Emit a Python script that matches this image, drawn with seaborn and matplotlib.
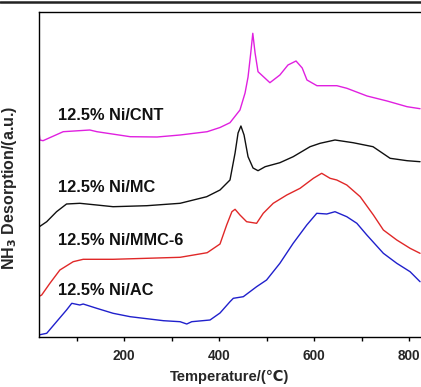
import matplotlib
matplotlib.use("Agg")
import matplotlib.pyplot as plt
import seaborn as sns
import numpy as np
from matplotlib.lines import Line2D
from matplotlib.ticker import MultipleLocator

sns.set_style("white")
plt.rcParams['font.family'] = ['Liberation Sans', 'DejaVu Sans', 'Noto Sans CJK SC']

# Data (temperature in C, signal in arbitrary offset units)
cnt_t = [20, 23, 29.5, 72, 128, 143, 213, 269.5, 318, 375, 402, 423, 444, 454.7, 461, 466.7, 471,
         475.8, 482, 507, 528, 545, 562, 575, 585, 606, 648, 669, 711.5, 753.6, 795.7, 823]
cnt_y = [210, 197, 196.3, 205.3, 207, 205.3, 200.3, 200, 202, 205.3, 209.5, 214.3, 227, 244, 260, 284, 303.7,
         284, 265.3, 254.3, 262, 272, 276, 269, 257, 251.3, 251.3, 248.7, 241, 236, 230.3, 228.3]

mc_t = [20, 37.3, 58, 79, 107, 142.5, 177, 248, 318, 374, 402, 423, 433.7, 440, 446, 452.6, 461, 471.5,
        482, 497, 528, 556, 591.5, 612.6, 644, 682, 724, 760, 795.7, 823]
mc_y = [109.7, 115.3, 125.3, 133, 133.7, 132, 130.3, 131.3, 133.7, 140.3, 147, 157, 184, 204, 211, 202, 180.3, 169,
        166.3, 170.3, 174.3, 180.3, 190.3, 193.7, 197, 194.3, 190.3, 178.7, 176.3, 175.3]

mmc_t = [20, 26.7, 44, 65, 93, 114, 177, 248, 318, 375, 402, 416, 427, 433.7, 444, 458, 479, 493, 514, 542.5,
         570.5, 598.5, 616, 633.6, 647.7, 668.8, 697, 724.8, 745.8, 774, 802, 823]
mmc_y = [40.3, 42, 53.7, 67, 75.3, 77.7, 77.7, 78.7, 79.7, 84.3, 93, 112, 125.3, 127.7, 122, 115.3, 113.7, 123.7,
         133.7, 142, 148.7, 158.7, 163.7, 158.7, 157, 152, 140.3, 122, 107, 97, 88.7, 83.7]

ac_t = [20, 37.3, 58, 79, 90, 107, 114, 142.5, 177, 213, 283, 318, 332, 342.5, 381, 402, 423, 430, 451, 479,
        500, 528, 556, 584.6, 605.6, 626.7, 644, 668.8, 690, 711, 745.8, 774, 802, 823]
ac_y = [2, 3.7, 15.3, 27, 33.7, 32, 33, 28.7, 23.7, 20.3, 16.3, 15.3, 13, 15.3, 17, 24, 35.3, 38.7, 40.3, 50.3,
        57, 73.7, 93.7, 112, 123.7, 123, 125.3, 120.3, 113.7, 102, 83.7, 73.7, 65.3, 55.3]

labels = ["12.5% Ni/CNT", "12.5% Ni/MC", "12.5% Ni/MMC-6", "12.5% Ni/AC"]
label_pos = [(61, 221), (60, 150), (60, 96.3), (60, 46.3)]
colors = ["#E020E0", "#101010", "#E02828", "#2020CC"]

fig = plt.figure(figsize=(4.21, 3.87), dpi=100)
fig.patch.set_facecolor("white")
ax = fig.add_axes([38.5 / 421, 1 - 337 / 387, 1 - 38.5 / 421, (337 - 12) / 387])

series = [(cnt_t, cnt_y), (mc_t, mc_y), (mmc_t, mmc_y), (ac_t, ac_y)]
for (t, y), c in zip(series, colors):
    sns.lineplot(x=t, y=y, color=c, lw=1.0, ax=ax, sort=False)

for lab, (tx, ty) in zip(labels, label_pos):
    ax.text(tx, ty, lab, fontsize=11.8, fontweight="bold", va="center", ha="left", color="#111111")

ax.set_xlim(20, 825)
ax.set_ylim(0, 325)
ax.set_yticks([])
ax.xaxis.set_major_locator(MultipleLocator(200))
ax.xaxis.set_minor_locator(MultipleLocator(100))
ax.set_xticks([200, 400, 600, 800])
ax.tick_params(axis="x", which="both", bottom=True, direction="out", length=3, width=1, color="black")
ax.tick_params(axis="x", which="major", labelsize=9.8, pad=6)
for lbl in ax.get_xticklabels():
    lbl.set_fontweight("bold")

for s in ["left", "bottom", "top"]:
    ax.spines[s].set_visible(True)
    ax.spines[s].set_color("black")
    ax.spines[s].set_linewidth(1.0)
ax.spines["right"].set_visible(False)

ax.set_xlabel("Temperature/(\u2103)", fontsize=10.5, fontweight="bold")
ax.xaxis.set_label_coords(0.5, -0.122)
ax.xaxis.label.set_va("center")
ax.set_ylabel("NH$_\\mathbf{3}$ Desorption/(a.u.)", fontsize=11.5, fontweight="bold", labelpad=7)
ax.yaxis.set_label_coords(-0.052, 0.46)

fig.add_artist(Line2D([0, 1], [1 - 2 / 387, 1 - 2 / 387], transform=fig.transFigure, color="#222222", lw=1.8))

fig.savefig("out.png", dpi=100, facecolor="white")
